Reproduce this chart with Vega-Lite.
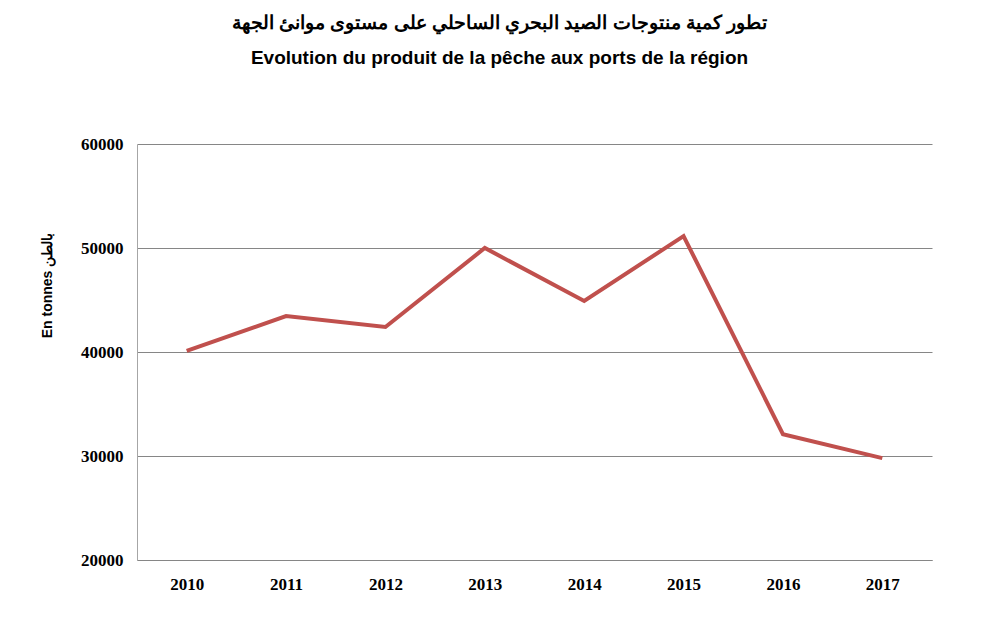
{
  "$schema": "https://vega.github.io/schema/vega-lite/v6.json",
  "width": 795,
  "height": 416,
  "autosize": {"type": "none"},
  "padding": {"left": 137, "top": 144, "right": 53, "bottom": 71},
  "background": "white",
  "title": {
    "text": ["تطور كمية منتوجات الصيد البحري الساحلي على مستوى موانئ الجهة", "Evolution du produit de la pêche aux ports de la région"],
    "font": "Liberation Sans",
    "fontSize": 19,
    "fontWeight": "bold",
    "color": "black",
    "anchor": "middle",
    "frame": "group",
    "dx": -35,
    "offset": 67,
    "lineHeight": 35
  },
  "data": {
    "values": [
      {"year": "2010", "tonnes": 40100},
      {"year": "2011", "tonnes": 43450},
      {"year": "2012", "tonnes": 42400},
      {"year": "2013", "tonnes": 50000},
      {"year": "2014", "tonnes": 44900},
      {"year": "2015", "tonnes": 51150},
      {"year": "2016", "tonnes": 32100},
      {"year": "2017", "tonnes": 29800}
    ]
  },
  "mark": {"type": "line", "color": "#C0504D", "strokeWidth": 4, "strokeJoin": "miter"},
  "encoding": {
    "x": {
      "field": "year",
      "type": "ordinal",
      "scale": {"type": "point", "padding": 0.5},
      "axis": {
        "title": null,
        "labelAngle": 0,
        "ticks": false,
        "domain": true,
        "domainColor": "#868686",
        "labelFont": "Liberation Serif",
        "labelFontWeight": "bold",
        "labelFontSize": 17,
        "labelColor": "black",
        "labelPadding": 16
      }
    },
    "y": {
      "field": "tonnes",
      "type": "quantitative",
      "scale": {"domain": [20000, 60000], "nice": false},
      "axis": {
        "values": [20000, 30000, 40000, 50000, 60000],
        "format": "d",
        "grid": true,
        "gridColor": "#868686",
        "gridOpacity": 1,
        "domain": true,
        "domainColor": "#A6A6A6",
        "ticks": false,
        "labelFont": "Liberation Serif",
        "labelFontWeight": "bold",
        "labelFontSize": 17,
        "labelColor": "black",
        "labelPadding": 14,
        "title": "En tonnes   بالطن",
        "titleFont": "Liberation Sans",
        "titleFontSize": 14,
        "titleFontWeight": "bold",
        "titleColor": "black",
        "titleX": -83,
        "titleY": 141
      }
    }
  },
  "config": {"view": {"stroke": null}}
}
